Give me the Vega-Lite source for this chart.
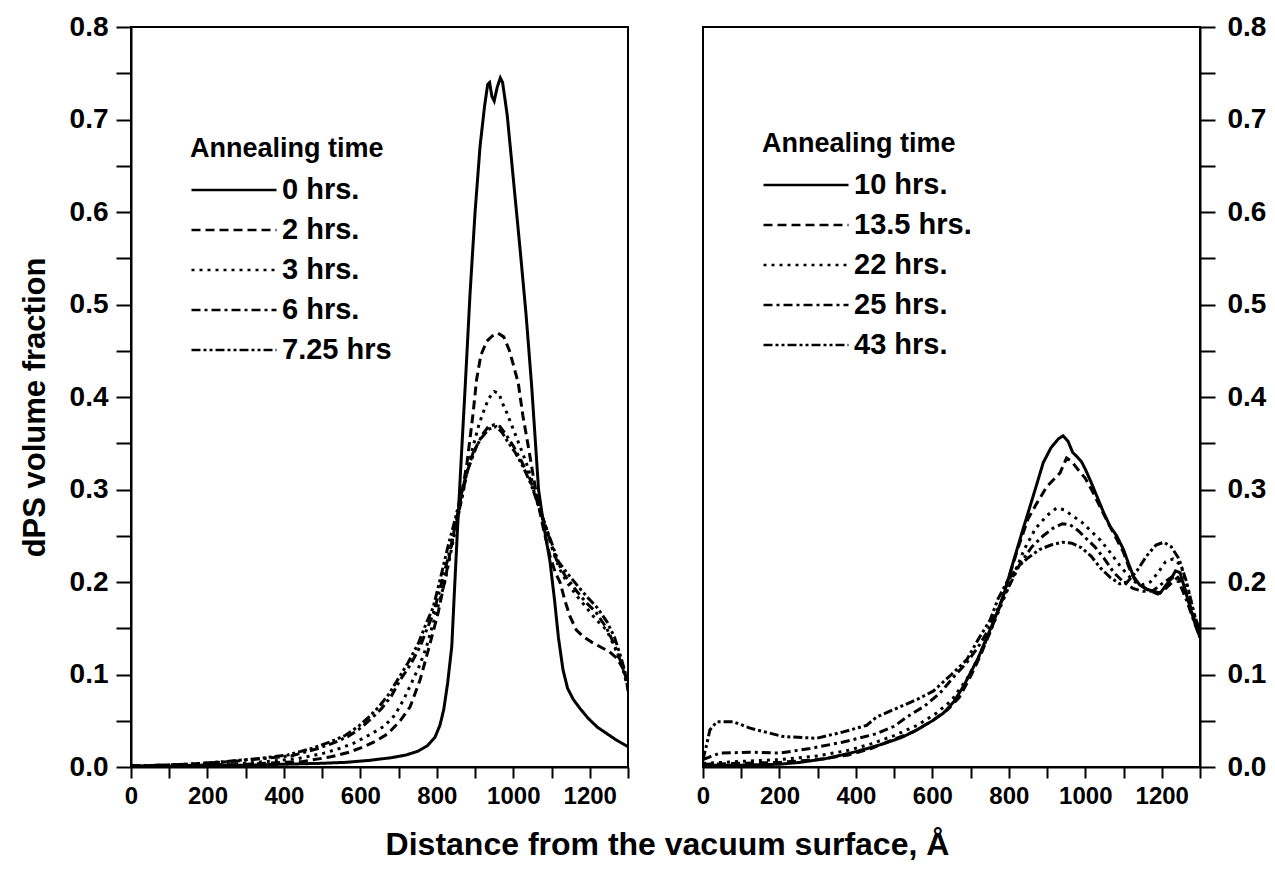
{
  "$schema": "https://vega.github.io/schema/vega-lite/v6.json",
  "background": "white",
  "padding": {"left": 18, "top": 12, "right": 5, "bottom": 5},
  "bounds": "flush",
  "spacing": 75,
  "title": {"text": "Distance from the vacuum surface, Å", "orient": "bottom", "anchor": "middle", "font": "Liberation Sans", "fontSize": 32, "fontWeight": "bold", "color": "black", "offset": 21, "dx": 25},
  "config": {
    "view": {"stroke": "black", "strokeWidth": 2},
    "axis": {"grid": false, "domainColor": "black", "domainWidth": 2, "tickColor": "black", "tickWidth": 2, "labelColor": "black", "labelFont": "Liberation Sans", "labelFontWeight": "bold", "labelFontSize": 24, "labelOverlap": false, "labelFlush": false, "titleColor": "black", "titleFont": "Liberation Sans", "titleFontWeight": "bold", "titleFontSize": 31},
    "legend": {"orient": "none", "titleFont": "Liberation Sans", "titleFontSize": 27, "titleFontWeight": "bold", "titleColor": "black", "titlePadding": 12, "titleLimit": 0, "labelLimit": 0, "labelFont": "Liberation Sans", "labelFontSize": 29, "labelFontWeight": "bold", "labelColor": "black", "labelOffset": 4, "symbolType": "stroke", "symbolSize": 7225, "symbolStrokeWidth": 2.5, "symbolStrokeColor": "black", "clipHeight": 30, "rowPadding": 10, "padding": 0}
  },
  "datasets": {
    "early": [
      {"t":"0 hrs.","d":0,"f":0.001},{"t":"0 hrs.","d":100,"f":0.001},{"t":"0 hrs.","d":200,"f":0.002},{"t":"0 hrs.","d":300,"f":0.002},{"t":"0 hrs.","d":400,"f":0.003},{"t":"0 hrs.","d":500,"f":0.004},{"t":"0 hrs.","d":560,"f":0.005},{"t":"0 hrs.","d":620,"f":0.007},{"t":"0 hrs.","d":680,"f":0.01},{"t":"0 hrs.","d":720,"f":0.013},{"t":"0 hrs.","d":750,"f":0.017},{"t":"0 hrs.","d":775,"f":0.023},{"t":"0 hrs.","d":795,"f":0.032},{"t":"0 hrs.","d":808,"f":0.045},{"t":"0 hrs.","d":818,"f":0.062},{"t":"0 hrs.","d":828,"f":0.09},{"t":"0 hrs.","d":839,"f":0.13},{"t":"0 hrs.","d":846,"f":0.19},{"t":"0 hrs.","d":854,"f":0.257},{"t":"0 hrs.","d":864,"f":0.335},{"t":"0 hrs.","d":874,"f":0.41},{"t":"0 hrs.","d":887,"f":0.513},{"t":"0 hrs.","d":900,"f":0.6},{"t":"0 hrs.","d":913,"f":0.671},{"t":"0 hrs.","d":925,"f":0.715},{"t":"0 hrs.","d":933,"f":0.738},{"t":"0 hrs.","d":938,"f":0.74},{"t":"0 hrs.","d":944,"f":0.725},{"t":"0 hrs.","d":950,"f":0.72},{"t":"0 hrs.","d":958,"f":0.735},{"t":"0 hrs.","d":966,"f":0.745},{"t":"0 hrs.","d":972,"f":0.74},{"t":"0 hrs.","d":984,"f":0.705},{"t":"0 hrs.","d":1000,"f":0.636},{"t":"0 hrs.","d":1017,"f":0.563},{"t":"0 hrs.","d":1033,"f":0.491},{"t":"0 hrs.","d":1048,"f":0.412},{"t":"0 hrs.","d":1058,"f":0.35},{"t":"0 hrs.","d":1066,"f":0.3},{"t":"0 hrs.","d":1080,"f":0.26},{"t":"0 hrs.","d":1096,"f":0.222},{"t":"0 hrs.","d":1108,"f":0.18},{"t":"0 hrs.","d":1118,"f":0.14},{"t":"0 hrs.","d":1130,"f":0.105},{"t":"0 hrs.","d":1142,"f":0.085},{"t":"0 hrs.","d":1157,"f":0.073},{"t":"0 hrs.","d":1175,"f":0.063},{"t":"0 hrs.","d":1195,"f":0.053},{"t":"0 hrs.","d":1220,"f":0.043},{"t":"0 hrs.","d":1245,"f":0.036},{"t":"0 hrs.","d":1270,"f":0.029},{"t":"0 hrs.","d":1300,"f":0.022},
      {"t":"2 hrs.","d":0,"f":0.001},{"t":"2 hrs.","d":100,"f":0.001},{"t":"2 hrs.","d":200,"f":0.002},{"t":"2 hrs.","d":300,"f":0.003},{"t":"2 hrs.","d":400,"f":0.005},{"t":"2 hrs.","d":450,"f":0.006},{"t":"2 hrs.","d":523,"f":0.011},{"t":"2 hrs.","d":570,"f":0.016},{"t":"2 hrs.","d":610,"f":0.022},{"t":"2 hrs.","d":640,"f":0.028},{"t":"2 hrs.","d":672,"f":0.036},{"t":"2 hrs.","d":704,"f":0.05},{"t":"2 hrs.","d":730,"f":0.065},{"t":"2 hrs.","d":756,"f":0.094},{"t":"2 hrs.","d":780,"f":0.13},{"t":"2 hrs.","d":803,"f":0.166},{"t":"2 hrs.","d":825,"f":0.21},{"t":"2 hrs.","d":845,"f":0.255},{"t":"2 hrs.","d":865,"f":0.295},{"t":"2 hrs.","d":879,"f":0.329},{"t":"2 hrs.","d":895,"f":0.383},{"t":"2 hrs.","d":904,"f":0.419},{"t":"2 hrs.","d":915,"f":0.445},{"t":"2 hrs.","d":930,"f":0.46},{"t":"2 hrs.","d":945,"f":0.466},{"t":"2 hrs.","d":960,"f":0.469},{"t":"2 hrs.","d":975,"f":0.465},{"t":"2 hrs.","d":990,"f":0.45},{"t":"2 hrs.","d":1000,"f":0.435},{"t":"2 hrs.","d":1013,"f":0.415},{"t":"2 hrs.","d":1025,"f":0.38},{"t":"2 hrs.","d":1039,"f":0.347},{"t":"2 hrs.","d":1052,"f":0.315},{"t":"2 hrs.","d":1065,"f":0.285},{"t":"2 hrs.","d":1080,"f":0.255},{"t":"2 hrs.","d":1096,"f":0.228},{"t":"2 hrs.","d":1110,"f":0.21},{"t":"2 hrs.","d":1122,"f":0.2},{"t":"2 hrs.","d":1135,"f":0.18},{"t":"2 hrs.","d":1148,"f":0.163},{"t":"2 hrs.","d":1165,"f":0.148},{"t":"2 hrs.","d":1183,"f":0.141},{"t":"2 hrs.","d":1205,"f":0.135},{"t":"2 hrs.","d":1227,"f":0.13},{"t":"2 hrs.","d":1250,"f":0.125},{"t":"2 hrs.","d":1270,"f":0.118},{"t":"2 hrs.","d":1285,"f":0.108},{"t":"2 hrs.","d":1300,"f":0.098},
      {"t":"3 hrs.","d":0,"f":0.001},{"t":"3 hrs.","d":200,"f":0.002},{"t":"3 hrs.","d":300,"f":0.004},{"t":"3 hrs.","d":436,"f":0.009},{"t":"3 hrs.","d":505,"f":0.015},{"t":"3 hrs.","d":545,"f":0.02},{"t":"3 hrs.","d":584,"f":0.026},{"t":"3 hrs.","d":625,"f":0.035},{"t":"3 hrs.","d":662,"f":0.044},{"t":"3 hrs.","d":690,"f":0.056},{"t":"3 hrs.","d":712,"f":0.072},{"t":"3 hrs.","d":733,"f":0.09},{"t":"3 hrs.","d":755,"f":0.11},{"t":"3 hrs.","d":773,"f":0.13},{"t":"3 hrs.","d":797,"f":0.165},{"t":"3 hrs.","d":821,"f":0.2},{"t":"3 hrs.","d":843,"f":0.245},{"t":"3 hrs.","d":865,"f":0.29},{"t":"3 hrs.","d":880,"f":0.32},{"t":"3 hrs.","d":895,"f":0.347},{"t":"3 hrs.","d":910,"f":0.37},{"t":"3 hrs.","d":921,"f":0.383},{"t":"3 hrs.","d":935,"f":0.398},{"t":"3 hrs.","d":950,"f":0.406},{"t":"3 hrs.","d":962,"f":0.404},{"t":"3 hrs.","d":975,"f":0.39},{"t":"3 hrs.","d":983,"f":0.383},{"t":"3 hrs.","d":1000,"f":0.365},{"t":"3 hrs.","d":1017,"f":0.347},{"t":"3 hrs.","d":1033,"f":0.33},{"t":"3 hrs.","d":1048,"f":0.311},{"t":"3 hrs.","d":1065,"f":0.282},{"t":"3 hrs.","d":1087,"f":0.257},{"t":"3 hrs.","d":1105,"f":0.232},{"t":"3 hrs.","d":1120,"f":0.215},{"t":"3 hrs.","d":1140,"f":0.2},{"t":"3 hrs.","d":1166,"f":0.185},{"t":"3 hrs.","d":1190,"f":0.173},{"t":"3 hrs.","d":1215,"f":0.16},{"t":"3 hrs.","d":1244,"f":0.148},{"t":"3 hrs.","d":1265,"f":0.13},{"t":"3 hrs.","d":1285,"f":0.108},{"t":"3 hrs.","d":1300,"f":0.085},
      {"t":"6 hrs.","d":0,"f":0.001},{"t":"6 hrs.","d":150,"f":0.003},{"t":"6 hrs.","d":262,"f":0.006},{"t":"6 hrs.","d":340,"f":0.009},{"t":"6 hrs.","d":419,"f":0.012},{"t":"6 hrs.","d":489,"f":0.02},{"t":"6 hrs.","d":530,"f":0.026},{"t":"6 hrs.","d":568,"f":0.033},{"t":"6 hrs.","d":600,"f":0.042},{"t":"6 hrs.","d":628,"f":0.052},{"t":"6 hrs.","d":655,"f":0.063},{"t":"6 hrs.","d":680,"f":0.076},{"t":"6 hrs.","d":704,"f":0.094},{"t":"6 hrs.","d":730,"f":0.11},{"t":"6 hrs.","d":756,"f":0.13},{"t":"6 hrs.","d":775,"f":0.15},{"t":"6 hrs.","d":791,"f":0.166},{"t":"6 hrs.","d":813,"f":0.2},{"t":"6 hrs.","d":835,"f":0.235},{"t":"6 hrs.","d":850,"f":0.262},{"t":"6 hrs.","d":865,"f":0.29},{"t":"6 hrs.","d":878,"f":0.318},{"t":"6 hrs.","d":904,"f":0.347},{"t":"6 hrs.","d":920,"f":0.36},{"t":"6 hrs.","d":935,"f":0.368},{"t":"6 hrs.","d":950,"f":0.37},{"t":"6 hrs.","d":965,"f":0.368},{"t":"6 hrs.","d":980,"f":0.36},{"t":"6 hrs.","d":1000,"f":0.347},{"t":"6 hrs.","d":1022,"f":0.33},{"t":"6 hrs.","d":1044,"f":0.311},{"t":"6 hrs.","d":1066,"f":0.283},{"t":"6 hrs.","d":1087,"f":0.257},{"t":"6 hrs.","d":1100,"f":0.24},{"t":"6 hrs.","d":1113,"f":0.224},{"t":"6 hrs.","d":1135,"f":0.207},{"t":"6 hrs.","d":1166,"f":0.19},{"t":"6 hrs.","d":1190,"f":0.178},{"t":"6 hrs.","d":1215,"f":0.168},{"t":"6 hrs.","d":1244,"f":0.15},{"t":"6 hrs.","d":1265,"f":0.132},{"t":"6 hrs.","d":1280,"f":0.115},{"t":"6 hrs.","d":1292,"f":0.1},{"t":"6 hrs.","d":1300,"f":0.09},
      {"t":"7.25 hrs","d":0,"f":0.001},{"t":"7.25 hrs","d":150,"f":0.003},{"t":"7.25 hrs","d":250,"f":0.006},{"t":"7.25 hrs","d":330,"f":0.009},{"t":"7.25 hrs","d":410,"f":0.013},{"t":"7.25 hrs","d":480,"f":0.021},{"t":"7.25 hrs","d":520,"f":0.027},{"t":"7.25 hrs","d":560,"f":0.034},{"t":"7.25 hrs","d":595,"f":0.044},{"t":"7.25 hrs","d":625,"f":0.055},{"t":"7.25 hrs","d":650,"f":0.066},{"t":"7.25 hrs","d":675,"f":0.079},{"t":"7.25 hrs","d":700,"f":0.096},{"t":"7.25 hrs","d":725,"f":0.113},{"t":"7.25 hrs","d":752,"f":0.134},{"t":"7.25 hrs","d":772,"f":0.155},{"t":"7.25 hrs","d":790,"f":0.172},{"t":"7.25 hrs","d":810,"f":0.205},{"t":"7.25 hrs","d":830,"f":0.24},{"t":"7.25 hrs","d":848,"f":0.268},{"t":"7.25 hrs","d":862,"f":0.292},{"t":"7.25 hrs","d":876,"f":0.315},{"t":"7.25 hrs","d":895,"f":0.34},{"t":"7.25 hrs","d":915,"f":0.355},{"t":"7.25 hrs","d":935,"f":0.365},{"t":"7.25 hrs","d":955,"f":0.368},{"t":"7.25 hrs","d":970,"f":0.362},{"t":"7.25 hrs","d":985,"f":0.352},{"t":"7.25 hrs","d":1005,"f":0.34},{"t":"7.25 hrs","d":1025,"f":0.325},{"t":"7.25 hrs","d":1046,"f":0.306},{"t":"7.25 hrs","d":1068,"f":0.28},{"t":"7.25 hrs","d":1090,"f":0.254},{"t":"7.25 hrs","d":1104,"f":0.238},{"t":"7.25 hrs","d":1118,"f":0.222},{"t":"7.25 hrs","d":1140,"f":0.21},{"t":"7.25 hrs","d":1170,"f":0.195},{"t":"7.25 hrs","d":1195,"f":0.183},{"t":"7.25 hrs","d":1220,"f":0.172},{"t":"7.25 hrs","d":1245,"f":0.157},{"t":"7.25 hrs","d":1265,"f":0.14},{"t":"7.25 hrs","d":1282,"f":0.118},{"t":"7.25 hrs","d":1294,"f":0.1},{"t":"7.25 hrs","d":1300,"f":0.082}
    ],
    "late": [
      {"t":"10 hrs.","d":0,"f":0.002},{"t":"10 hrs.","d":100,"f":0.002},{"t":"10 hrs.","d":200,"f":0.003},{"t":"10 hrs.","d":254,"f":0.005},{"t":"10 hrs.","d":320,"f":0.009},{"t":"10 hrs.","d":385,"f":0.015},{"t":"10 hrs.","d":430,"f":0.02},{"t":"10 hrs.","d":471,"f":0.025},{"t":"10 hrs.","d":520,"f":0.032},{"t":"10 hrs.","d":559,"f":0.04},{"t":"10 hrs.","d":600,"f":0.05},{"t":"10 hrs.","d":628,"f":0.058},{"t":"10 hrs.","d":655,"f":0.07},{"t":"10 hrs.","d":681,"f":0.087},{"t":"10 hrs.","d":700,"f":0.102},{"t":"10 hrs.","d":720,"f":0.118},{"t":"10 hrs.","d":740,"f":0.138},{"t":"10 hrs.","d":760,"f":0.157},{"t":"10 hrs.","d":785,"f":0.184},{"t":"10 hrs.","d":811,"f":0.221},{"t":"10 hrs.","d":837,"f":0.257},{"t":"10 hrs.","d":863,"f":0.292},{"t":"10 hrs.","d":890,"f":0.329},{"t":"10 hrs.","d":910,"f":0.345},{"t":"10 hrs.","d":930,"f":0.355},{"t":"10 hrs.","d":942,"f":0.358},{"t":"10 hrs.","d":955,"f":0.352},{"t":"10 hrs.","d":967,"f":0.34},{"t":"10 hrs.","d":977,"f":0.336},{"t":"10 hrs.","d":990,"f":0.33},{"t":"10 hrs.","d":1000,"f":0.322},{"t":"10 hrs.","d":1015,"f":0.308},{"t":"10 hrs.","d":1030,"f":0.293},{"t":"10 hrs.","d":1048,"f":0.275},{"t":"10 hrs.","d":1065,"f":0.26},{"t":"10 hrs.","d":1082,"f":0.25},{"t":"10 hrs.","d":1100,"f":0.235},{"t":"10 hrs.","d":1113,"f":0.22},{"t":"10 hrs.","d":1126,"f":0.206},{"t":"10 hrs.","d":1142,"f":0.197},{"t":"10 hrs.","d":1161,"f":0.192},{"t":"10 hrs.","d":1180,"f":0.19},{"t":"10 hrs.","d":1196,"f":0.188},{"t":"10 hrs.","d":1210,"f":0.196},{"t":"10 hrs.","d":1222,"f":0.202},{"t":"10 hrs.","d":1236,"f":0.212},{"t":"10 hrs.","d":1248,"f":0.21},{"t":"10 hrs.","d":1262,"f":0.19},{"t":"10 hrs.","d":1274,"f":0.173},{"t":"10 hrs.","d":1287,"f":0.155},{"t":"10 hrs.","d":1300,"f":0.14},
      {"t":"13.5 hrs.","d":0,"f":0.003},{"t":"13.5 hrs.","d":100,"f":0.004},{"t":"13.5 hrs.","d":200,"f":0.005},{"t":"13.5 hrs.","d":300,"f":0.008},{"t":"13.5 hrs.","d":380,"f":0.013},{"t":"13.5 hrs.","d":440,"f":0.02},{"t":"13.5 hrs.","d":500,"f":0.03},{"t":"13.5 hrs.","d":550,"f":0.038},{"t":"13.5 hrs.","d":600,"f":0.05},{"t":"13.5 hrs.","d":640,"f":0.062},{"t":"13.5 hrs.","d":670,"f":0.075},{"t":"13.5 hrs.","d":700,"f":0.098},{"t":"13.5 hrs.","d":725,"f":0.12},{"t":"13.5 hrs.","d":750,"f":0.145},{"t":"13.5 hrs.","d":775,"f":0.172},{"t":"13.5 hrs.","d":800,"f":0.205},{"t":"13.5 hrs.","d":825,"f":0.238},{"t":"13.5 hrs.","d":850,"f":0.268},{"t":"13.5 hrs.","d":873,"f":0.285},{"t":"13.5 hrs.","d":899,"f":0.303},{"t":"13.5 hrs.","d":934,"f":0.318},{"t":"13.5 hrs.","d":951,"f":0.334},{"t":"13.5 hrs.","d":965,"f":0.33},{"t":"13.5 hrs.","d":980,"f":0.322},{"t":"13.5 hrs.","d":1000,"f":0.312},{"t":"13.5 hrs.","d":1020,"f":0.297},{"t":"13.5 hrs.","d":1040,"f":0.28},{"t":"13.5 hrs.","d":1062,"f":0.262},{"t":"13.5 hrs.","d":1080,"f":0.248},{"t":"13.5 hrs.","d":1100,"f":0.232},{"t":"13.5 hrs.","d":1115,"f":0.215},{"t":"13.5 hrs.","d":1130,"f":0.202},{"t":"13.5 hrs.","d":1150,"f":0.195},{"t":"13.5 hrs.","d":1170,"f":0.19},{"t":"13.5 hrs.","d":1190,"f":0.187},{"t":"13.5 hrs.","d":1210,"f":0.193},{"t":"13.5 hrs.","d":1228,"f":0.2},{"t":"13.5 hrs.","d":1242,"f":0.205},{"t":"13.5 hrs.","d":1256,"f":0.198},{"t":"13.5 hrs.","d":1270,"f":0.18},{"t":"13.5 hrs.","d":1285,"f":0.16},{"t":"13.5 hrs.","d":1300,"f":0.145},
      {"t":"22 hrs.","d":0,"f":0.004},{"t":"22 hrs.","d":100,"f":0.006},{"t":"22 hrs.","d":200,"f":0.008},{"t":"22 hrs.","d":300,"f":0.012},{"t":"22 hrs.","d":380,"f":0.018},{"t":"22 hrs.","d":440,"f":0.025},{"t":"22 hrs.","d":500,"f":0.034},{"t":"22 hrs.","d":560,"f":0.045},{"t":"22 hrs.","d":610,"f":0.058},{"t":"22 hrs.","d":650,"f":0.072},{"t":"22 hrs.","d":690,"f":0.095},{"t":"22 hrs.","d":720,"f":0.118},{"t":"22 hrs.","d":750,"f":0.145},{"t":"22 hrs.","d":780,"f":0.175},{"t":"22 hrs.","d":810,"f":0.205},{"t":"22 hrs.","d":840,"f":0.235},{"t":"22 hrs.","d":870,"f":0.258},{"t":"22 hrs.","d":900,"f":0.272},{"t":"22 hrs.","d":925,"f":0.28},{"t":"22 hrs.","d":945,"f":0.278},{"t":"22 hrs.","d":965,"f":0.272},{"t":"22 hrs.","d":990,"f":0.265},{"t":"22 hrs.","d":1015,"f":0.255},{"t":"22 hrs.","d":1040,"f":0.245},{"t":"22 hrs.","d":1065,"f":0.232},{"t":"22 hrs.","d":1090,"f":0.218},{"t":"22 hrs.","d":1110,"f":0.208},{"t":"22 hrs.","d":1130,"f":0.2},{"t":"22 hrs.","d":1150,"f":0.197},{"t":"22 hrs.","d":1170,"f":0.2},{"t":"22 hrs.","d":1190,"f":0.21},{"t":"22 hrs.","d":1210,"f":0.222},{"t":"22 hrs.","d":1230,"f":0.225},{"t":"22 hrs.","d":1250,"f":0.218},{"t":"22 hrs.","d":1270,"f":0.19},{"t":"22 hrs.","d":1285,"f":0.165},{"t":"22 hrs.","d":1300,"f":0.145},
      {"t":"25 hrs.","d":0,"f":0.008},{"t":"25 hrs.","d":18,"f":0.011},{"t":"25 hrs.","d":44,"f":0.015},{"t":"25 hrs.","d":123,"f":0.016},{"t":"25 hrs.","d":200,"f":0.015},{"t":"25 hrs.","d":280,"f":0.02},{"t":"25 hrs.","d":367,"f":0.027},{"t":"25 hrs.","d":454,"f":0.036},{"t":"25 hrs.","d":500,"f":0.044},{"t":"25 hrs.","d":533,"f":0.054},{"t":"25 hrs.","d":580,"f":0.066},{"t":"25 hrs.","d":620,"f":0.08},{"t":"25 hrs.","d":655,"f":0.097},{"t":"25 hrs.","d":690,"f":0.113},{"t":"25 hrs.","d":720,"f":0.13},{"t":"25 hrs.","d":742,"f":0.145},{"t":"25 hrs.","d":770,"f":0.17},{"t":"25 hrs.","d":800,"f":0.195},{"t":"25 hrs.","d":830,"f":0.22},{"t":"25 hrs.","d":860,"f":0.238},{"t":"25 hrs.","d":890,"f":0.25},{"t":"25 hrs.","d":915,"f":0.258},{"t":"25 hrs.","d":940,"f":0.263},{"t":"25 hrs.","d":960,"f":0.262},{"t":"25 hrs.","d":980,"f":0.256},{"t":"25 hrs.","d":1000,"f":0.248},{"t":"25 hrs.","d":1025,"f":0.238},{"t":"25 hrs.","d":1050,"f":0.225},{"t":"25 hrs.","d":1075,"f":0.21},{"t":"25 hrs.","d":1100,"f":0.2},{"t":"25 hrs.","d":1125,"f":0.193},{"t":"25 hrs.","d":1150,"f":0.19},{"t":"25 hrs.","d":1175,"f":0.19},{"t":"25 hrs.","d":1200,"f":0.198},{"t":"25 hrs.","d":1225,"f":0.205},{"t":"25 hrs.","d":1245,"f":0.2},{"t":"25 hrs.","d":1265,"f":0.18},{"t":"25 hrs.","d":1282,"f":0.16},{"t":"25 hrs.","d":1300,"f":0.14},
      {"t":"43 hrs.","d":0,"f":0.008},{"t":"43 hrs.","d":10,"f":0.025},{"t":"43 hrs.","d":18,"f":0.04},{"t":"43 hrs.","d":36,"f":0.049},{"t":"43 hrs.","d":79,"f":0.049},{"t":"43 hrs.","d":123,"f":0.042},{"t":"43 hrs.","d":209,"f":0.033},{"t":"43 hrs.","d":297,"f":0.031},{"t":"43 hrs.","d":367,"f":0.038},{"t":"43 hrs.","d":428,"f":0.045},{"t":"43 hrs.","d":454,"f":0.054},{"t":"43 hrs.","d":515,"f":0.065},{"t":"43 hrs.","d":560,"f":0.073},{"t":"43 hrs.","d":602,"f":0.082},{"t":"43 hrs.","d":650,"f":0.1},{"t":"43 hrs.","d":690,"f":0.116},{"t":"43 hrs.","d":720,"f":0.138},{"t":"43 hrs.","d":751,"f":0.159},{"t":"43 hrs.","d":772,"f":0.182},{"t":"43 hrs.","d":795,"f":0.2},{"t":"43 hrs.","d":820,"f":0.215},{"t":"43 hrs.","d":850,"f":0.226},{"t":"43 hrs.","d":880,"f":0.235},{"t":"43 hrs.","d":910,"f":0.24},{"t":"43 hrs.","d":940,"f":0.243},{"t":"43 hrs.","d":965,"f":0.242},{"t":"43 hrs.","d":990,"f":0.237},{"t":"43 hrs.","d":1015,"f":0.228},{"t":"43 hrs.","d":1040,"f":0.215},{"t":"43 hrs.","d":1065,"f":0.205},{"t":"43 hrs.","d":1090,"f":0.198},{"t":"43 hrs.","d":1110,"f":0.2},{"t":"43 hrs.","d":1135,"f":0.212},{"t":"43 hrs.","d":1160,"f":0.228},{"t":"43 hrs.","d":1185,"f":0.24},{"t":"43 hrs.","d":1205,"f":0.243},{"t":"43 hrs.","d":1225,"f":0.238},{"t":"43 hrs.","d":1245,"f":0.225},{"t":"43 hrs.","d":1265,"f":0.2},{"t":"43 hrs.","d":1282,"f":0.17},{"t":"43 hrs.","d":1300,"f":0.145}
    ]
  },
  "hconcat": [
    {
      "width": 497,
      "height": 740,
      "data": {"name": "early"},
      "mark": {"type": "line", "color": "black", "strokeWidth": 3, "clip": true},
      "encoding": {
        "x": {"field": "d", "type": "quantitative", "scale": {"domain": [0, 1300], "nice": false, "zero": false},
          "axis": {"title": null, "values": [0,100,200,300,400,500,600,700,800,900,1000,1100,1200,1300], "format": "d", "labelExpr": "datum.value % 200 == 0 && datum.value <= 1200 ? datum.label : ''", "tickSize": 11, "labelPadding": 6}},
        "y": {"field": "f", "type": "quantitative", "scale": {"domain": [0, 0.8], "nice": false},
          "axis": {"orient": "left", "title": "dPS volume fraction", "values": [0,0.05,0.1,0.15,0.2,0.25,0.3,0.35,0.4,0.45,0.5,0.55,0.6,0.65,0.7,0.75,0.8], "labelExpr": "round(datum.value*100) % 10 == 0 ? format(datum.value, '.1f') : ''", "labelFontSize": 28, "tickSize": 15, "labelPadding": 8, "titleX": -96, "titleY": 380, "titleBaseline": "middle",
            "encode": {"ticks": {"update": {"x2": {"signal": "round(datum.value*100) % 10 == 0 ? -15 : -8"}}}}}},
        "strokeDash": {"field": "t", "type": "nominal",
          "scale": {"domain": ["0 hrs.", "2 hrs.", "3 hrs.", "6 hrs.", "7.25 hrs"], "range": [[1, 0], [9, 5], [3, 5], [9, 4, 3, 4], [9, 3, 3, 3, 3, 3]]},
          "legend": {"title": "Annealing time", "legendX": 59, "legendY": 109}}
      }
    },
    {
      "width": 497,
      "height": 740,
      "data": {"name": "late"},
      "mark": {"type": "line", "color": "black", "strokeWidth": 3, "clip": true},
      "encoding": {
        "x": {"field": "d", "type": "quantitative", "scale": {"domain": [0, 1300], "nice": false, "zero": false},
          "axis": {"title": null, "values": [0,100,200,300,400,500,600,700,800,900,1000,1100,1200,1300], "format": "d", "labelExpr": "datum.value % 200 == 0 && datum.value <= 1200 ? datum.label : ''", "tickSize": 11, "labelPadding": 6}},
        "y": {"field": "f", "type": "quantitative", "scale": {"domain": [0, 0.8], "nice": false},
          "axis": {"orient": "right", "title": null, "values": [0,0.05,0.1,0.15,0.2,0.25,0.3,0.35,0.4,0.45,0.5,0.55,0.6,0.65,0.7,0.75,0.8], "labelExpr": "round(datum.value*100) % 10 == 0 ? format(datum.value, '.1f') : ''", "labelFontSize": 28, "tickSize": 15, "labelPadding": 12,
            "encode": {"ticks": {"update": {"x2": {"signal": "round(datum.value*100) % 10 == 0 ? 15 : 8"}}}}}},
        "strokeDash": {"field": "t", "type": "nominal",
          "scale": {"domain": ["10 hrs.", "13.5 hrs.", "22 hrs.", "25 hrs.", "43 hrs."], "range": [[1, 0], [9, 5], [3, 5], [9, 4, 3, 4], [9, 3, 3, 3, 3, 3]]},
          "legend": {"title": "Annealing time", "legendX": 59, "legendY": 104}}
      }
    }
  ],
  "resolve": {"scale": {"strokeDash": "independent", "y": "independent"}, "legend": {"strokeDash": "independent"}}
}
